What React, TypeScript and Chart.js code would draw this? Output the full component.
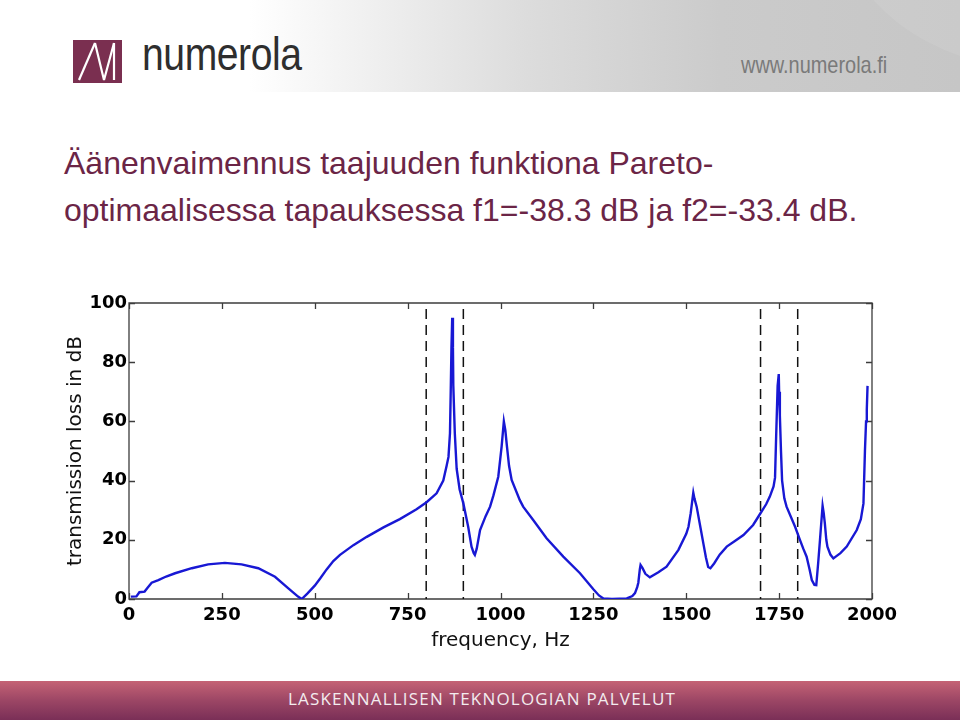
import React, { useEffect, useRef } from "react";
import { Chart, registerables } from "chart.js";

Chart.register(...registerables);

// ---- data ----
const freqHz = [
  5, 20, 28, 42, 50, 61, 79, 100, 124, 169, 213, 258, 303, 348, 393, 429, 455, 465, 480, 500,
  515, 532, 550, 568, 604, 640, 685, 729, 774, 801, 828, 846, 855, 860, 864, 866, 868, 870, 872,
  873, 877, 882, 890, 900, 913, 922, 928, 931, 936, 945, 960, 972, 981, 994, 1003, 1009, 1013,
  1017, 1023, 1030, 1052, 1061, 1088, 1124, 1169, 1214, 1250, 1265, 1277, 1300, 1340, 1355, 1362,
  1368, 1371, 1375, 1377, 1382, 1390, 1402, 1425, 1447, 1479, 1500, 1506, 1512, 1517, 1519, 1522,
  1528, 1537, 1546, 1553, 1559, 1565, 1575, 1590, 1609, 1630, 1654, 1680, 1699, 1715, 1725, 1735,
  1739, 1742, 1746, 1749, 1750, 1752, 1755, 1758, 1764, 1770, 1793, 1806, 1815, 1824, 1832, 1838,
  1845, 1850, 1855, 1860, 1863, 1867, 1870, 1873, 1877, 1880, 1888, 1896, 1915, 1932, 1959, 1970,
  1977, 1981, 1984, 1986, 1988,
];
const lossDb = [
  0.8, 0.9, 2.3, 2.5, 3.8, 5.5, 6.4, 7.6, 8.7, 10.4, 11.7, 12.2, 11.7, 10.4, 7.5, 3.6, 0.8, 0, 1.8, 4.5,
  7, 10, 12.8, 14.9, 18.2, 21, 24.2, 27, 30.3, 32.7, 35.7, 40, 45, 48, 56, 70, 85, 95, 85,
  72, 56, 44, 37, 32.3, 24.4, 17.7, 15.5, 14.9, 17, 23.3, 28, 31.2, 35, 41.3, 51.5, 60, 57,
  52, 45, 40.2, 33.4, 31.2, 26.7, 20.5, 14.3, 8.7, 3.3, 1.2, 0.2, 0, 0.2, 1, 2,
  4, 5.5, 10, 11.5, 10.5, 8.5, 7.3, 9, 10.9, 16.6, 22, 24.4, 29, 34, 35.9, 34,
  31.2, 25, 18.8, 14, 10.8, 10.4, 12, 15, 17.7, 19.5, 21.6, 25, 28.8, 32, 34.6, 38,
  41, 55, 72, 76, 70, 62, 50, 40, 34, 31.2, 24.4, 20, 17, 14.3, 10, 6.4,
  4.8, 4.7, 12, 20, 25, 31.5, 29, 25.6, 20, 17.7, 15, 13.7, 15.5, 17.7, 23.3, 27,
  32.3, 50, 60, 64, 72,
];
const dashedFreqs = [800, 900, 1700, 1800];
const xRange = [0, 2000];
const yRange = [0, 100];
const xStep = 250;
const yStep = 20;
const xTitle = "frequency, Hz";
const yTitle = "transmission loss in dB";
const titleLines = [
  "Äänenvaimennus taajuuden funktiona Pareto-",
  "optimaalisessa tapauksessa f1=-38.3 dB ja f2=-33.4 dB.",
];
const footerText = "LASKENNALLISEN TEKNOLOGIAN PALVELUT";

const framePlugin = {
  id: "frame",
  beforeDatasetsDraw(chart: any) {
    const { ctx, chartArea: a, scales } = chart;
    ctx.save();
    ctx.strokeStyle = "#3c3c3c";
    ctx.lineWidth = 1.3;
    ctx.beginPath();
    ctx.rect(a.left, a.top, a.right - a.left, a.bottom - a.top);
    const tl = 6;
    scales.x.ticks.forEach((t: any) => {
      const px = Math.round(scales.x.getPixelForValue(t.value)) + 0.5;
      ctx.moveTo(px, a.bottom);
      ctx.lineTo(px, a.bottom - tl);
      ctx.moveTo(px, a.top);
      ctx.lineTo(px, a.top + tl);
    });
    scales.y.ticks.forEach((t: any) => {
      const py = Math.round(scales.y.getPixelForValue(t.value)) + 0.5;
      ctx.moveTo(a.left, py);
      ctx.lineTo(a.left + tl, py);
      ctx.moveTo(a.right, py);
      ctx.lineTo(a.right - tl, py);
    });
    ctx.stroke();
    ctx.restore();
  },
};

function TLChart() {
  const ref = useRef<HTMLCanvasElement>(null);
  useEffect(() => {
    if (!ref.current) return;
    const tickFont = { family: "'DejaVu Sans', sans-serif", size: 18, weight: "bold" as const };
    const titleFont = { family: "'DejaVu Sans', sans-serif", size: 20 };
    const chart = new Chart(ref.current, {
      type: "line",
      data: {
        datasets: [
          {
            data: freqHz.map((f, i) => ({ x: f, y: lossDb[i] })),
            borderColor: "#1818d4",
            borderWidth: 2.4,
            pointRadius: 0,
            tension: 0,
          },
          ...dashedFreqs.map((f) => ({
            data: [
              { x: f, y: yRange[1] },
              { x: f, y: yRange[0] },
            ],
            borderColor: "#111111",
            borderWidth: 1.5,
            borderDash: [10, 6],
            borderDashOffset: 10,
            pointRadius: 0,
            tension: 0,
          })),
        ],
      },
      options: {
        responsive: false,
        animation: false,
        layout: { padding: { left: 10, right: 88, top: 23, bottom: 20 } },
        plugins: { legend: { display: false }, tooltip: { enabled: false } },
        scales: {
          x: {
            type: "linear",
            min: xRange[0],
            max: xRange[1],
            ticks: {
              stepSize: xStep,
              color: "#000",
              font: tickFont,
              padding: 6,
              maxRotation: 0,
              callback: (v: any) => String(v),
            },
            grid: { display: false, drawTicks: false },
            border: { display: false },
            title: { display: true, text: xTitle, color: "#111", font: titleFont, padding: { top: 0, bottom: 7 } },
            afterFit: (s: any) => {
              s.height = 61;
            },
          },
          y: {
            min: yRange[0],
            max: yRange[1],
            ticks: { stepSize: yStep, color: "#000", font: tickFont, padding: 2, callback: (v: any) => String(v) },
            grid: { display: false, drawTicks: false },
            border: { display: false },
            title: { display: true, text: yTitle, color: "#111", font: titleFont, padding: { top: 54, bottom: 0 } },
            afterFit: (s: any) => {
              s.width = 119;
            },
          },
        },
      },
      plugins: [framePlugin],
    });
    return () => chart.destroy();
  }, []);
  return (
    <canvas
      ref={ref}
      width={960}
      height={400}
      style={{ position: "absolute", left: 0, top: 280, width: 960, height: 400 }}
    />
  );
}

export default function App() {
  return (
    <div
      style={{
        position: "fixed",
        left: 0,
        top: 0,
        width: 960,
        height: 720,
        overflow: "hidden",
        background: "#ffffff",
        fontFamily: "'Liberation Sans', Arial, sans-serif",
      }}
    >
      {/* header */}
      <div
        style={{
          position: "absolute",
          left: 0,
          top: 0,
          width: 960,
          height: 92,
          overflow: "hidden",
          background: "linear-gradient(to right, #ffffff 0%, #ffffff 26%, #dcdcdc 55%, #cbcbcb 75%, #c6c6c6 100%)",
        }}
      >
        <div
          style={{
            position: "absolute",
            left: 835,
            top: -260,
            width: 420,
            height: 330,
            borderRadius: "50%",
            background: "rgba(255,255,255,0.08)",
          }}
        />
        <svg width={960} height={92} style={{ position: "absolute", left: 0, top: 0 }}>
          <rect x={73} y={40} width={49} height={43} fill="#7a2f50" />
          <polyline points="79,80 95,43" stroke="#ffffff" strokeWidth={2.2} fill="none" />
          <polyline points="95,43 104,80 114,43" stroke="#ffffff" strokeWidth={2.2} fill="none" />
          <polyline points="114,43 114,80" stroke="#ffffff" strokeWidth={2.2} fill="none" />
        </svg>
        <div
          style={{
            position: "absolute",
            left: 142,
            top: 24,
            fontFamily: "'Liberation Sans', sans-serif",
            fontSize: 46,
            lineHeight: "60px",
            color: "#2e2e2e",
            letterSpacing: -0.5,
            transform: "scaleX(0.85)",
            transformOrigin: "0 0",
            whiteSpace: "nowrap",
          }}
        >
          numerola
        </div>
        <div
          style={{
            position: "absolute",
            left: 741,
            top: 50,
            fontFamily: "'Liberation Sans', sans-serif",
            fontSize: 24,
            lineHeight: "30px",
            color: "#7a7a7a",
            transform: "scaleX(0.83)",
            transformOrigin: "0 0",
            whiteSpace: "nowrap",
          }}
        >
          www.numerola.fi
        </div>
      </div>

      {/* title */}
      <div
        style={{
          position: "absolute",
          left: 64,
          top: 140,
          fontSize: 32,
          lineHeight: "47px",
          color: "#6b2546",
          whiteSpace: "nowrap",
        }}
      >
        {titleLines.map((l, i) => (
          <div key={i}>{l}</div>
        ))}
      </div>

      <TLChart />

      {/* footer */}
      <div
        style={{
          position: "absolute",
          left: 0,
          top: 681,
          width: 960,
          height: 39,
          background: "linear-gradient(to bottom, #c56375 0%, #9c4665 50%, #7a2f57 100%)",
        }}
      >
        <div
          style={{
            position: "absolute",
            left: 0,
            top: 6,
            width: 960,
            textAlign: "center",
            fontFamily: "'Open Sans', sans-serif",
            fontSize: 17,
            lineHeight: "24px",
            letterSpacing: 1.2,
            color: "#f3ecef",
            paddingLeft: 2,
          }}
        >
          {footerText}
        </div>
      </div>
    </div>
  );
}
